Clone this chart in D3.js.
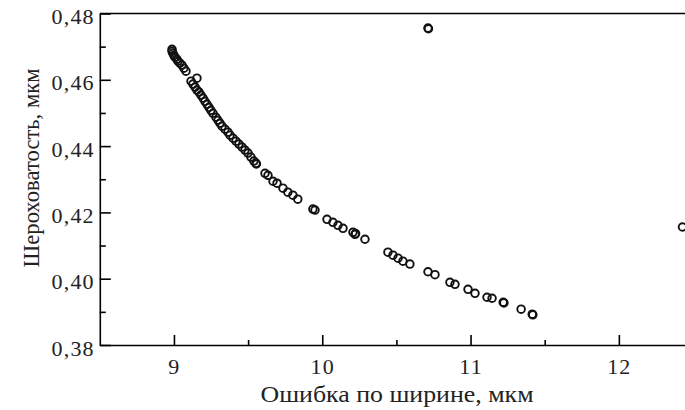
<!DOCTYPE html>
<html>
<head>
<meta charset="utf-8">
<script src="https://cdn.jsdelivr.net/npm/d3@7"></script>
<style>
  html, body { margin: 0; padding: 0; background: #fff; }
  svg { display: block; }
  .axis text { font-family: "Liberation Serif", serif; font-size: 22px; letter-spacing: 1.2px; fill: #222; }
  .axis line, .axis path { stroke: #000; stroke-width: 1.6px; }
  .lbl { font-family: "Liberation Serif", serif; font-size: 24px; fill: #222; }
</style>
</head>
<body>
<div id="chart"></div>
<script>
// width error, um
const widthError = [
  8.987, 8.987, 8.993, 9.000, 9.007, 9.020, 9.027, 9.040, 9.054, 9.067, 9.081,
  9.155,
  9.115, 9.128, 9.142, 9.155, 9.169, 9.182, 9.196, 9.209, 9.223, 9.236, 9.249,
  9.263, 9.283, 9.297, 9.310, 9.324, 9.344, 9.364, 9.378, 9.398, 9.418, 9.438,
  9.459, 9.479, 9.499, 9.519, 9.539, 9.553, 9.556,
  9.614, 9.634, 9.668, 9.695, 9.735, 9.768, 9.802, 9.835,
  9.937, 9.951, 10.032, 10.072, 10.106, 10.140, 10.207, 10.221, 10.225, 10.288,
  10.443, 10.477, 10.511, 10.544, 10.591,
  10.713, 10.760, 10.861, 10.895, 10.983, 11.030,
  11.111, 11.145, 11.220, 11.225, 11.341, 11.416, 11.420,
  10.713, 10.716, 12.429
];
// roughness, um
const roughness = [
  0.4692, 0.4686, 0.4680, 0.4674, 0.4668, 0.4662, 0.4656, 0.4650, 0.4644, 0.4635, 0.4626,
  0.4605,
  0.4596, 0.4587, 0.4578, 0.4569, 0.4563, 0.4554, 0.4545, 0.4535, 0.4526, 0.4517, 0.4508,
  0.4499, 0.4487, 0.4478, 0.4469, 0.4460, 0.4451, 0.4442, 0.4433, 0.4424, 0.4415, 0.4406,
  0.4397, 0.4388, 0.4379, 0.4367, 0.4355, 0.4348, 0.4346,
  0.4318, 0.4312, 0.4294, 0.4288, 0.4273, 0.4261, 0.4252, 0.4240,
  0.4210, 0.4207, 0.4179, 0.4170, 0.4161, 0.4152, 0.4140, 0.4134, 0.4136, 0.4119,
  0.4080, 0.4071, 0.4062, 0.4053, 0.4044,
  0.4021, 0.4012, 0.3989, 0.3983, 0.3968, 0.3956,
  0.3944, 0.3941, 0.3929, 0.3927, 0.3908, 0.3893, 0.3891,
  0.4756, 0.4754, 0.4156
];

const xMajor = [9, 10, 11, 12];
const xMinor = [9.5, 10.5, 11.5, 12.5];
const yMajor = [0.38, 0.40, 0.42, 0.44, 0.46, 0.48];
const yMinor = [0.39, 0.41, 0.43, 0.45, 0.47];

const fmt = d => d.toFixed(2).replace('.', ',');
const serif = '"Liberation Serif", serif';

const W = 685, H = 410;
const svg = d3.select('#chart').append('svg')
  .attr('width', W).attr('height', H);

const x = d3.scaleLinear().domain([8.5, 12.5]).range([99.8, 693]);
const y = d3.scaleLinear().domain([0.38, 0.48]).range([345, 13.5]);

// minor ticks
svg.append('g').attr('class', 'axis')
  .attr('transform', `translate(0,${y(0.38)})`)
  .call(d3.axisBottom(x).tickValues(xMinor).tickSize(-5).tickSizeOuter(0).tickFormat(''))
  .call(g => g.select('.domain').remove());
svg.append('g').attr('class', 'axis')
  .attr('transform', `translate(${x(8.5)},0)`)
  .call(d3.axisLeft(y).tickValues(yMinor).tickSize(-6).tickSizeOuter(0).tickFormat(''))
  .call(g => g.select('.domain').remove());

// X axis
svg.append('g').attr('class', 'axis')
  .attr('transform', `translate(0,${y(0.38)})`)
  .call(d3.axisBottom(x).tickValues(xMajor).tickSize(-10).tickSizeOuter(0).tickPadding(13).tickFormat(d3.format('d')))
  .attr('font-family', serif)
  .selectAll('text').attr('dy', '0.71em');

// Y axis
svg.append('g').attr('class', 'axis')
  .attr('transform', `translate(${x(8.5)},0)`)
  .call(d3.axisLeft(y).tickValues(yMajor).tickSize(-11).tickSizeOuter(0).tickPadding(5).tickFormat(fmt))
  .attr('font-family', serif)
  .selectAll('text').attr('dy', '0.46em');

// top frame line
svg.append('line')
  .attr('x1', x(8.5)).attr('x2', W + 5)
  .attr('y1', y(0.48)).attr('y2', y(0.48))
  .attr('stroke', '#000').attr('stroke-width', 1.6);

// points
svg.append('g')
  .selectAll('circle')
  .data(widthError.map((v, i) => [v, roughness[i]]))
  .join('circle')
  .attr('cx', d => x(d[0]))
  .attr('cy', d => y(d[1]))
  .attr('r', 3.8)
  .attr('fill', 'none')
  .attr('stroke', '#111')
  .attr('stroke-width', 1.9);

// axis labels
svg.append('text')
  .attr('class', 'lbl')
  .attr('x', 397).attr('y', 402)
  .attr('text-anchor', 'middle')
  .attr('textLength', 273)
  .attr('lengthAdjust', 'spacingAndGlyphs')
  .text('Ошибка по ширине, мкм');

svg.append('text')
  .attr('class', 'lbl')
  .attr('transform', 'translate(39,168) rotate(-90)')
  .attr('text-anchor', 'middle')
  .attr('textLength', 199)
  .attr('lengthAdjust', 'spacingAndGlyphs')
  .text('Шероховатость, мкм');
</script>
</body>
</html>
